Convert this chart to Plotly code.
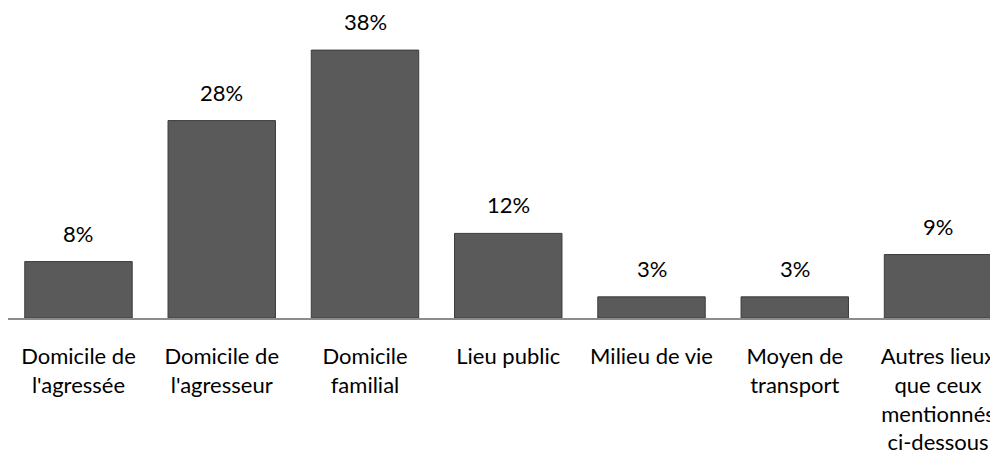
import plotly.graph_objects as go

categories = ["Domicile de<br>l'agressée", "Domicile de<br>l'agresseur", "Domicile<br>familial",
              "Lieu public", "Milieu de vie", "Moyen de<br>transport",
              "Autres lieux<br>que ceux<br>mentionnés<br>ci-dessous"]
values = [8, 28, 38, 12, 3, 3, 9]
labels = ["8%", "28%", "38%", "12%", "3%", "3%", "9%"]

FONT = "Lato, Calibri, Carlito, sans-serif"

fig = go.Figure()
fig.add_trace(go.Bar(
    x=categories, y=values, width=0.75,
    marker=dict(color="#5a5a5a", line=dict(color="#3c3c3c", width=1)),
    hoverinfo="skip",
))

for c, v, t in zip(categories, values, labels):
    fig.add_annotation(x=c, y=v, text=t, showarrow=False, yanchor="bottom",
                       yshift=13, font=dict(family=FONT, size=22, color="#000000"))

fig.update_layout(
    width=998, height=466,
    margin=dict(l=0, r=0, t=12, b=156, autoexpand=False),
    paper_bgcolor="white", plot_bgcolor="white",
    showlegend=False,
    font=dict(family=FONT, size=22, color="#000000"),
    xaxis=dict(range=[-0.492, 6.4745], showline=True, linecolor="#8c8c8c", linewidth=2,
               ticks="", showgrid=False, automargin=False, ticklabelstandoff=18,
               tickfont=dict(family=FONT, size=22, color="#000000")),
    yaxis=dict(range=[0, 42.27], visible=False, showgrid=False),
)

fig.write_html("out.html")
